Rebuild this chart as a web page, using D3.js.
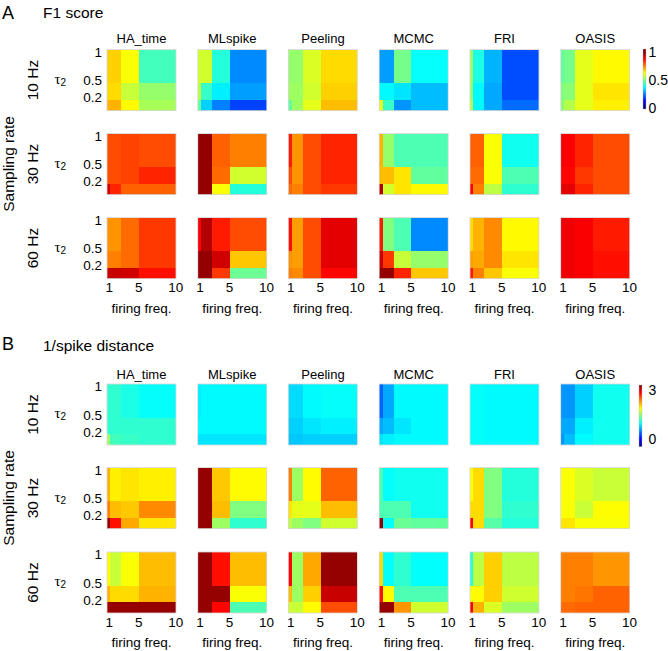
<!DOCTYPE html>
<html><head><meta charset="utf-8">
<script src="https://cdn.jsdelivr.net/npm/d3@7"></script>
<style>
body{margin:0;background:#fff;}
text{font-family:"Liberation Sans",Arial,Helvetica,sans-serif;fill:#000;}
</style></head><body>
<script>
// ---------- data ----------
const methods = ["HA_time","MLspike","Peeling","MCMC","FRI","OASIS"];
const rates = ["10 Hz","30 Hz","60 Hz"];
const firingEdges = [0.75, 1.2, 2.7, 5.1, 10.1];   // cell edges along firing freq.
const tauEdges = [-0.03, 0.155, 0.447, 1.04];      // cell edges along tau2 (bottom -> top)
const xTicks = [1, 5, 10];
const yTicks = [0.2, 0.5, 1];
const f1Ticks = [0, 0.5, 1];
const spkTicks = [0, 3];

// F1 score, rows top (tau2 ~1) -> bottom, columns low -> high firing freq.
const f1_10Hz = [
  [[0.67,0.67,0.62,0.44],[0.66,0.66,0.57,0.52],[0.70,0.70,0.63,0.54]],
  [[0.58,0.58,0.41,0.26],[0.56,0.43,0.36,0.28],[0.47,0.33,0.25,0.19]],
  [[0.52,0.52,0.59,0.66],[0.53,0.53,0.58,0.67],[0.47,0.53,0.60,0.69]],
  [[0.28,0.28,0.49,0.38],[0.37,0.37,0.35,0.31],[0.60,0.43,0.27,0.31]],
  [[0.53,0.40,0.30,0.20],[0.52,0.37,0.29,0.20],[0.55,0.37,0.29,0.23]],
  [[0.47,0.49,0.60,0.63],[0.50,0.51,0.60,0.65],[0.51,0.55,0.60,0.64]]
];
const f1_30Hz = [
  [[0.80,0.80,0.81,0.80],[0.80,0.80,0.81,0.84],[0.92,0.84,0.78,0.78]],
  [[0.98,0.98,0.78,0.75],[0.98,0.98,0.77,0.58],[0.98,0.98,0.62,0.41]],
  [[0.85,0.73,0.80,0.84],[0.80,0.73,0.80,0.84],[0.77,0.75,0.80,0.82]],
  [[0.70,0.52,0.45,0.45],[0.69,0.69,0.65,0.47],[0.95,0.58,0.65,0.63]],
  [[0.78,0.78,0.62,0.39],[0.77,0.77,0.62,0.45],[0.88,0.75,0.56,0.42]],
  [[0.88,0.88,0.84,0.80],[0.87,0.87,0.82,0.80],[0.90,0.90,0.84,0.80]]
];
const f1_60Hz = [
  [[0.73,0.73,0.77,0.82],[0.75,0.75,0.77,0.82],[0.93,0.93,0.92,0.86]],
  [[0.88,0.95,0.85,0.80],[0.98,0.98,0.92,0.68],[0.98,0.98,0.82,0.48]],
  [[0.86,0.72,0.80,0.90],[0.73,0.72,0.80,0.90],[0.75,0.74,0.80,0.87]],
  [[0.85,0.50,0.45,0.26],[0.93,0.82,0.57,0.52],[0.98,0.98,0.84,0.68]],
  [[0.66,0.70,0.74,0.63],[0.72,0.71,0.74,0.65],[0.85,0.75,0.68,0.62]],
  [[0.89,0.89,0.88,0.85],[0.89,0.89,0.88,0.86],[0.89,0.89,0.88,0.86]]
];

// 1/spike distance
const spk_10Hz = [
  [[1.10,1.10,1.02,0.94],[1.10,1.10,1.10,1.10],[1.51,1.17,1.13,1.10]],
  [[0.87,0.91,0.91,0.91],[0.91,0.91,0.91,0.91],[0.83,0.83,0.83,0.83]],
  [[0.79,0.79,0.91,0.94],[0.75,0.75,0.83,0.87],[0.72,0.72,0.75,0.75]],
  [[0.34,0.60,0.91,0.91],[0.60,0.68,0.83,0.91],[0.83,0.87,0.91,0.91]],
  [[0.94,0.94,0.91,0.91],[0.94,0.94,0.91,0.91],[0.94,0.94,0.91,0.91]],
  [[0.53,0.53,0.75,0.98],[0.60,0.60,0.87,0.98],[0.53,0.68,0.91,0.98]]
];
const spk_30Hz = [
  [[2.16,1.93,1.97,1.93],[2.35,2.12,2.08,2.31],[3.22,2.77,2.20,1.97]],
  [[3.22,3.22,2.08,1.89],[3.22,3.22,2.12,1.40],[3.22,3.22,1.51,1.10]],
  [[2.35,1.51,1.89,2.46],[1.97,1.78,1.78,2.12],[1.63,1.51,1.40,1.70]],
  [[1.21,0.94,0.98,0.98],[1.21,1.21,1.21,0.98],[3.22,0.93,1.32,1.29]],
  [[1.86,2.01,1.40,1.06],[2.01,2.01,1.40,1.10],[2.84,2.01,1.25,1.06]],
  [[1.86,1.86,1.74,1.67],[1.86,1.86,1.67,1.88],[1.97,1.97,1.86,1.86]]
];
const spk_60Hz = [
  [[1.89,1.67,1.86,2.12],[2.16,2.01,2.01,2.16],[3.19,3.22,3.22,3.22]],
  [[3.22,3.22,2.77,2.12],[3.22,3.22,3.22,1.86],[3.22,3.22,2.81,1.21]],
  [[2.81,1.51,2.20,3.22],[2.12,1.51,2.05,3.03],[1.70,1.67,1.89,2.54]],
  [[2.01,0.94,1.10,0.93],[2.77,1.89,1.21,1.21],[3.22,3.22,2.27,1.70]],
  [[1.06,1.63,2.05,1.63],[1.86,1.89,2.05,1.70],[2.84,2.16,1.74,1.51]],
  [[2.35,2.35,2.35,2.27],[2.35,2.35,2.39,2.46],[2.43,2.43,2.46,2.46]]
];

// ---------- colormap (MATLAB jet) ----------
function jet(t){
  t = Math.max(0, Math.min(1, t));
  const c = v => Math.round(255*Math.max(0, Math.min(1, v)));
  return `rgb(${c(1.5-Math.abs(4*t-3))},${c(1.5-Math.abs(4*t-2))},${c(1.5-Math.abs(4*t-1))})`;
}

// ---------- layout ----------
const W = 668, H = 651;
const svg = d3.select("body").append("svg").attr("width", W).attr("height", H);

const colStart = 107, colStep = 90.74, cellW = 69, cellH = 61;

const panels = [
  {letter:"A", title:"F1 score", data:[f1_10Hz,f1_30Hz,f1_60Hz],
   tops:[49.5,133.5,217.5], titleY:17.5, letterY:18.5, methY:-7,
   cdomain:[0,1], cbDomain:[-0.025,1.06], cbTicks:f1Ticks,
   cb:{x:643, w:3, y0:49, y1:109, pad:2.5}},
  {letter:"B", title:"1/spike distance", data:[spk_10Hz,spk_30Hz,spk_60Hz],
   tops:[384,467.5,552], titleY:350.5, letterY:350, methY:-5,
   cdomain:[-0.5,3.3], cbDomain:[-0.5,3.3], cbTicks:spkTicks,
   cb:{x:639, w:3, y0:385, y1:446.7, pad:6.5}}
];

const defs = svg.append("defs");

panels.forEach((p, pi) => {
  const color = d3.scaleLinear().domain(p.cdomain).range([0,1]).clamp(true);
  const fill = v => jet(color(v));

  svg.append("text").attr("x", 2).attr("y", p.letterY)
    .style("font-size","18px").text(p.letter);
  svg.append("text").attr("x", 43).attr("y", p.titleY)
    .style("font-size","15.5px").text(p.title);

  p.tops.forEach((top, ri) => {
    const cy = top + cellH/2;
    // rate label
    svg.append("text").attr("transform", `translate(37.5,${cy}) rotate(-90)`)
      .attr("text-anchor","middle").style("font-size","15.5px").text(rates[ri]);
    // tau2 label
    const tl = svg.append("text").attr("x", 54.5).attr("y", cy + 3.8)
      .style("font-family","'Liberation Serif','DejaVu Serif',serif").style("font-size","15px");
    tl.append("tspan").text("τ");
    tl.append("tspan").attr("dy", 2).style("font-size","10px")
      .style("font-family","'Liberation Sans',Arial,sans-serif").text("2");

    methods.forEach((m, mi) => {
      const left = colStart + mi*colStep;
      const x = d3.scaleLinear().domain([firingEdges[0], firingEdges[4]]).range([left, left+cellW]);
      const y = d3.scaleLinear().domain([tauEdges[0], tauEdges[3]]).range([top+cellH, top]);
      const mat = p.data[ri][mi];
      const cells = [];
      mat.forEach((row, i) => row.forEach((v, j) => {
        cells.push({x0:firingEdges[j], x1:firingEdges[j+1], y0:tauEdges[2-i], y1:tauEdges[3-i], v});
      }));
      const g = svg.append("g").attr("shape-rendering","crispEdges");
      g.selectAll("rect").data(cells).join("rect")
        .attr("x", d => x(d.x0)).attr("width", d => x(d.x1) - x(d.x0))
        .attr("y", d => y(d.y1)).attr("height", d => y(d.y0) - y(d.y1))
        .attr("fill", d => fill(d.v));
      svg.append("rect").attr("x", left).attr("y", top).attr("width", cellW).attr("height", cellH)
        .attr("fill","none").attr("stroke","#d6d6d6").attr("stroke-width",0.8);

      if (ri === 0) {
        svg.append("text").attr("x", left + cellW/2).attr("y", top + p.methY)
          .attr("text-anchor","middle").style("font-size","13px").text(m);
      }
      if (mi === 0) {
        const ax = svg.append("g").attr("transform", `translate(${left},0)`)
          .call(d3.axisLeft(y).tickValues(yTicks).tickSize(0).tickPadding(5).tickFormat(d3.format("")));
        ax.select(".domain").remove();
        ax.selectAll("text").style("font-size","13.5px").style("font-family","'Liberation Sans',Arial,sans-serif");
      }
      if (ri === 2) {
        const ax = svg.append("g").attr("transform", `translate(0,${top+cellH})`)
          .call(d3.axisBottom(x).tickValues(xTicks).tickSize(0).tickPadding(4.3));
        ax.select(".domain").remove();
        ax.selectAll("text").style("font-size","13.5px").style("font-family","'Liberation Sans',Arial,sans-serif");
        svg.append("text").attr("x", left + cellW/2).attr("y", top + cellH + 34)
          .attr("text-anchor","middle").style("font-size","13.5px").text("firing freq.");
      }
    });
  });

  // Sampling rate label
  const midY = p.tops[1] + cellH/2;
  svg.append("text").attr("transform", `translate(14,${midY}) rotate(-90)`)
    .attr("text-anchor","middle").style("font-size","15.5px").text("Sampling rate");

  // colorbar
  const cb = p.cb;
  const cbScale = d3.scaleLinear().domain(p.cbDomain).range([cb.y1, cb.y0]);
  const gid = "grad" + pi;
  const grad = defs.append("linearGradient").attr("id", gid)
    .attr("x1",0).attr("y1",1).attr("x2",0).attr("y2",0);
  d3.range(0, 1.0001, 1/64).forEach(f => {
    const v = cbScale.invert(cb.y1 - f*(cb.y1-cb.y0));
    grad.append("stop").attr("offset", f).attr("stop-color", fill(v));
  });
  svg.append("rect").attr("x", cb.x).attr("y", cb.y0).attr("width", cb.w).attr("height", cb.y1-cb.y0)
    .attr("fill", `url(#${gid})`).attr("stroke","#bbb").attr("stroke-width",0.4);
  const cax = svg.append("g").attr("transform", `translate(${cb.x+cb.w},0)`)
    .call(d3.axisRight(cbScale).tickValues(p.cbTicks).tickSize(0).tickPadding(cb.pad).tickFormat(d3.format("")));
  cax.select(".domain").remove();
  cax.selectAll("text").style("font-size","14px").style("font-family","'Liberation Sans',Arial,sans-serif");
});
</script>
</body></html>
